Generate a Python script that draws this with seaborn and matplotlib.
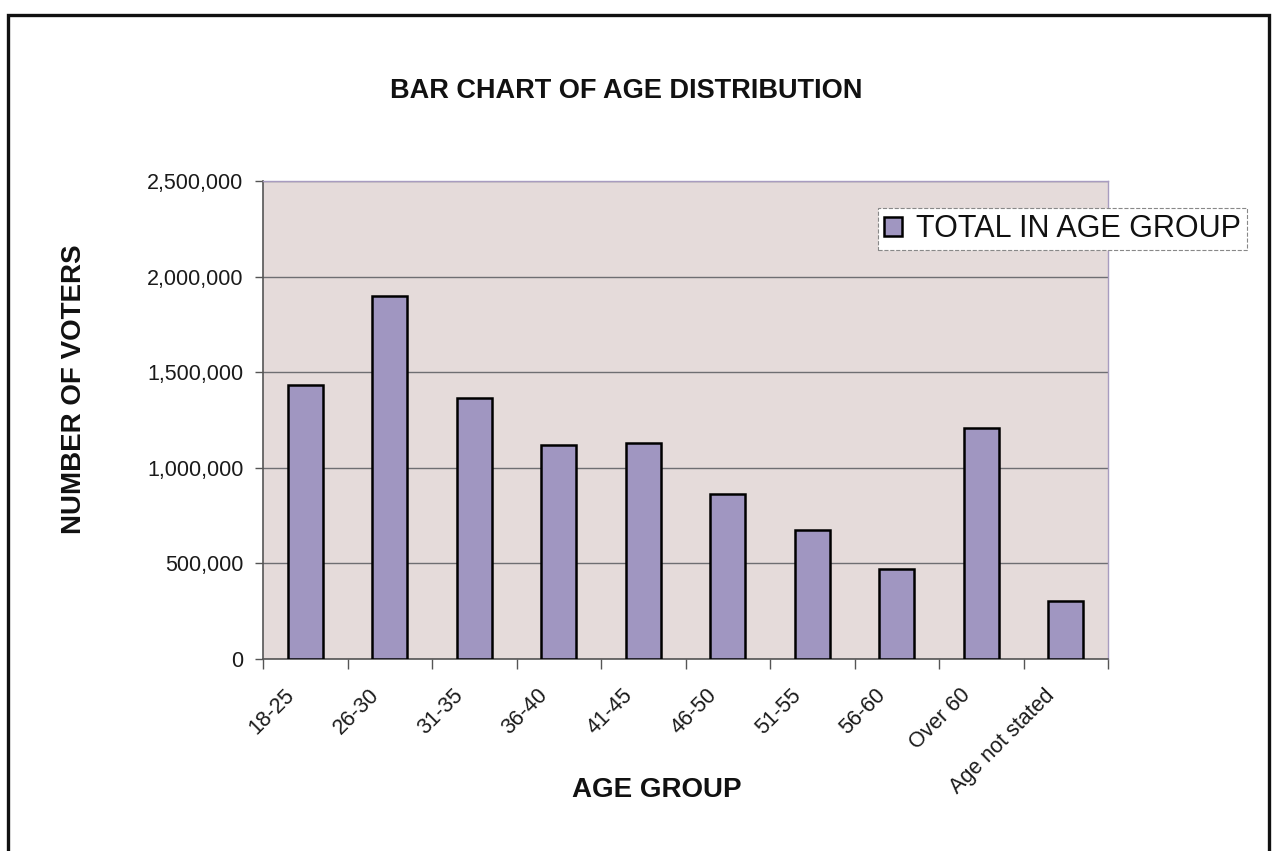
import matplotlib
matplotlib.use("Agg")
import matplotlib.pyplot as plt
import matplotlib.ticker as mticker
import matplotlib.transforms as mtransforms
from matplotlib.patches import Rectangle
import seaborn as sns
import pandas as pd
import numpy as np

age_groups = ["18-25", "26-30", "31-35", "36-40", "41-45", "46-50",
              "51-55", "56-60", "Over 60", "Age not stated"]
voters = [1435000, 1900000, 1365000, 1120000, 1132000, 862000,
          675000, 470000, 1210000, 305000]
y_ticks = [0, 500000, 1000000, 1500000, 2000000, 2500000]
series_name = "TOTAL IN AGE GROUP"

df = pd.DataFrame({"age": age_groups, "voters": voters, "series": series_name})

sns.set_style("white")
plt.rcParams["font.family"] = ["Liberation Sans", "DejaVu Sans"]

fig = plt.figure(figsize=(12.74, 8.51), dpi=100)
fig.patch.set_facecolor("white")
ax = fig.add_axes([263 / 1274, 1 - 659 / 851, (1108 - 263) / 1274, (659 - 181) / 851])
ax.set_facecolor("#E5DBDA")

sns.barplot(data=df, x="age", y="voters", hue="series", palette=["#9C8FC8"],
            width=0.41, edgecolor="black", linewidth=1.8, ax=ax, zorder=3)

ax.set_ylim(0, 2500000)
ax.set_xlim(-0.5, len(age_groups) - 0.5)
ax.set_yticks(y_ticks)
ax.yaxis.set_major_formatter(mticker.FuncFormatter(lambda v, p: f"{int(v):,}"))
ax.yaxis.grid(True, color="#6E6E72", linewidth=1.0, zorder=0)
ax.set_axisbelow(True)
ax.tick_params(axis="y", length=6, width=1, color="#555555", labelsize=15.5, pad=8,
               left=True, labelcolor="#1A1A1A")

ax.set_xticks(np.arange(len(age_groups)))
ax.set_xticklabels(age_groups, rotation=45, ha="right", va="center",
                   rotation_mode="anchor", fontsize=15.5, color="#1A1A1A")
ax.tick_params(axis="x", which="major", length=0, pad=24)
offset = mtransforms.ScaledTranslation(-14 / 100, 0, fig.dpi_scale_trans)
for lbl in ax.get_xticklabels():
    lbl.set_transform(lbl.get_transform() + offset)
ax.set_xticks(np.arange(-0.5, len(age_groups), 1.0), minor=True)
ax.tick_params(axis="x", which="minor", length=7, width=1, color="#555555", bottom=True)

for side in ["left", "bottom"]:
    ax.spines[side].set_color("#555555")
    ax.spines[side].set_linewidth(1.2)
for side in ["top", "right"]:
    ax.spines[side].set_color("#A89CC0")
    ax.spines[side].set_linewidth(1.0)

ax.set_xlabel("")
ax.set_ylabel("")

leg = ax.legend(loc="upper left", bbox_to_anchor=((878 - 263) / 845, 1 - (208 - 181) / 478),
                frameon=True, fontsize=22, handlelength=0.6, handleheight=0.6,
                handletextpad=0.45, borderpad=0.2, borderaxespad=0, fancybox=False,
                framealpha=1.0)
leg.get_frame().set_edgecolor("#888888")
leg.get_frame().set_facecolor("white")
leg.get_frame().set_linestyle("--")
leg.get_frame().set_linewidth(0.8)
leg.set_zorder(5)
for t in leg.get_texts():
    t.set_color("#111111")

fig.text(626 / 1274, 1 - 91 / 851, "BAR CHART OF AGE DISTRIBUTION", ha="center", va="center",
         fontsize=19.5, fontweight="bold", color="#111111")
fig.text(74 / 1274, 1 - 389 / 851, "NUMBER OF VOTERS", ha="center", va="center",
         rotation=90, fontsize=20, fontweight="bold", color="#111111")
fig.text(657 / 1274, 1 - 790 / 851, "AGE GROUP", ha="center", va="center",
         fontsize=20, fontweight="bold", color="#111111")

fig.add_artist(Rectangle((7.5 / 1274, -0.01), (1269 - 7.5) / 1274, 1 - 15 / 851 + 0.01,
                         transform=fig.transFigure, fill=False, edgecolor="#111111",
                         linewidth=2.4))

fig.savefig("out.png", dpi=100)
